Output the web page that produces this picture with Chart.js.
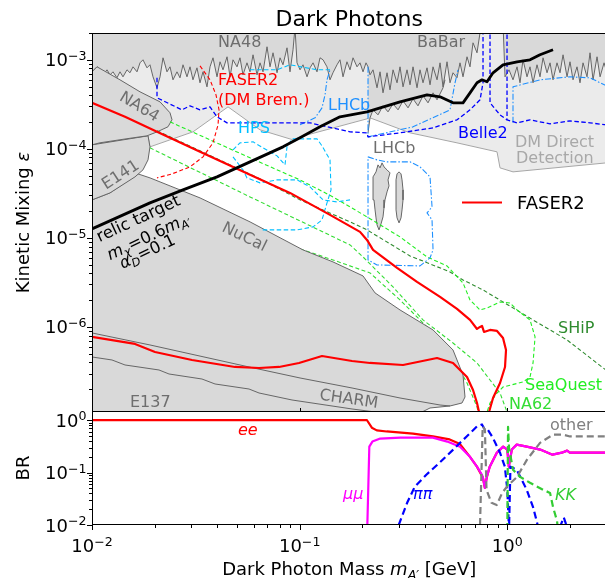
<!DOCTYPE html>
<html><head><meta charset="utf-8">
<script src="https://cdn.jsdelivr.net/npm/chart.js@4.4.1/dist/chart.umd.min.js"></script>
<style>
html,body{margin:0;padding:0;background:#fff;overflow:hidden;width:605px;height:578px;}
#wrap{position:relative;width:605px;height:578px;overflow:hidden;background:#fff;}
canvas{position:absolute;left:0;}
#cTop{top:0;}
#cBot{top:411px;}
</style></head><body>
<div id="wrap"><canvas id="cTop" width="610" height="412" style="width:610px;height:412px"></canvas><canvas id="cBot" width="610" height="167" style="width:610px;height:167px"></canvas></div>
<script>
// ---------- tick labels ----------
const massTicks = [0.01, 0.1, 1];
const massTickExp = ['\u22122', '\u22121', '0'];
const epsTicks = [1e-3, 1e-4, 1e-5, 1e-6];
const epsTickExp = ['\u22123', '\u22124', '\u22125', '\u22126'];
const brTicks = [1, 0.1, 0.01];
const brTickExp = ['0', '\u22121', '\u22122'];

// ---------- top panel: [mass GeV, epsilon] ----------
const dmDirectEdge = [[0.0100,1.109e-4],[0.01861,1.400e-4],[0.01902,1.053e-4],[0.02375,1.262e-4],[0.03064,1.552e-4],[0.04519,2.963e-4],[0.06444,1.635e-4],[0.0929,1.262e-4],[0.1004,1.364e-4],[0.2110,2.173e-4],[0.2182,2.230e-4],[0.3400,1.513e-4],[0.5724,1.168e-4],[0.8921,9.254e-5],[0.9223,6.117e-5],[1.065,5.515e-5],[3.0,6.961e-5]];
const na48BabarEdge = [[0.0100,7.33e-4],[0.01057,8.34e-4],[0.01093,7.92e-4],[0.01130,6.78e-4],[0.01181,7.72e-4],[0.01221,6.78e-4],[0.01262,7.33e-4],[0.01319,6.28e-4],[0.01364,7.33e-4],[0.01410,6.44e-4],[0.01474,7.72e-4],[0.01524,7.15e-4],[0.01576,8.34e-4],[0.01647,7.33e-4],[0.01703,9.25e-4],[0.01760,1.0e-3],[0.01840,8.13e-4],[0.01902,8.79e-4],[0.01967,6.44e-4],[0.02056,4.85e-4],[0.02126,6.44e-4],[0.02198,1.053e-3],[0.02297,7.33e-4],[0.02375,8.34e-4],[0.02455,5.96e-4],[0.02566,7.33e-4],[0.02653,6.28e-4],[0.02743,8.79e-4],[0.02867,6.44e-4],[0.02965,8.34e-4],[0.03064,5.96e-4],[0.03203,8.13e-4],[0.03312,5.52e-4],[0.03424,7.33e-4],[0.03579,4.97e-4],[0.03701,8.34e-4],[0.03826,1.053e-3],[0.04000,6.44e-4],[0.04135,9.50e-4],[0.04275,7.72e-4],[0.04470,1.081e-3],[0.04620,6.44e-4],[0.04775,1.0e-3],[0.04992,8.34e-4],[0.05160,1.053e-3],[0.05334,6.78e-4],[0.05577,9.25e-4],[0.05767,7.33e-4],[0.05962,1.138e-3],[0.06232,6.78e-4],[0.06444,9.25e-4],[0.06662,7.33e-4],[0.06964,1.40e-3],[0.07198,8.34e-4],[0.07443,1.199e-3],[0.07781,7.15e-4],[0.08043,1.053e-3],[0.08314,8.79e-4],[0.08691,1.364e-3],[0.08984,7.33e-4],[0.09290,1.296e-3],[0.09498,2.3e-3],[0.09710,9.25e-4],
[0.1004,7.72e-4],[0.1038,8.79e-4],[0.1085,6.44e-4],[0.1122,8.13e-4],[0.1160,9.25e-4],[0.1212,7.33e-4],[0.1253,1.053e-3],[0.1296,1.0e-3],[0.1354,8.34e-4],[0.1400,5.96e-4],[0.1447,7.15e-4],[0.1513,8.79e-4],[0.1564,1.0e-3],[0.1617,6.44e-4],[0.1690,9.50e-4],[0.1748,7.72e-4],[0.1807,1.053e-3],[0.1889,8.34e-4],[0.1953,9.25e-4],[0.2019,7.33e-4],[0.2087,9.25e-4],[0.2134,8.34e-4],[0.2182,6.78e-4],[0.2256,7.72e-4],[0.2358,4.85e-4],[0.2438,7.33e-4],[0.2520,4.26e-4],[0.2635,7.15e-4],[0.2723,4.60e-4],[0.2816,7.72e-4],[0.2944,5.52e-4],[0.3043,8.34e-4],[0.3146,4.97e-4],[0.3289,7.72e-4],[0.3400,5.24e-4],[0.3515,8.34e-4],[0.3674,4.85e-4],[0.3798,7.72e-4],[0.3926,5.52e-4],[0.4105,8.13e-4],[0.4244,5.24e-4],[0.4388,8.34e-4],[0.4587,5.96e-4],[0.4743,9.25e-4],[0.4902,4.97e-4],[0.5124,9.50e-4],[0.5297,5.52e-4],[0.5476,7.15e-4],[0.5724,6.28e-4],[0.5918,9.25e-4],[0.6118,6.44e-4],[0.6396,1.081e-3],[0.6612,8.34e-4],[0.6836,1.552e-3],[0.7146,1.199e-3],[0.7388,2.01e-3],[0.747,2.54e-3],[0.9535,2.54e-3],[0.9748,6.44e-4],[1.019,7.72e-4],[1.065,5.96e-4],[1.114,8.34e-4],[1.151,5.52e-4],[1.190,1.0e-3],[1.244,6.44e-4],[1.286,8.34e-4],[1.330,5.52e-4],[1.390,8.79e-4],[1.437,6.44e-4],[1.486,1.053e-3],[1.553,7.15e-4],[1.606,9.25e-4],[1.660,5.96e-4],[1.735,9.25e-4],[1.794,7.15e-4],[1.855,1.138e-3],[1.939,6.44e-4],[2.004,9.50e-4],[2.072,5.96e-4],[2.166,8.34e-4],[2.239,5.52e-4],[2.315,9.25e-4],[2.420,6.44e-4],[2.502,1.199e-3],[2.587,5.96e-4],[2.704,1.081e-3],[2.796,6.44e-4],[2.923,9.25e-4],[3.0,7.5e-4]];
const lhcbUpperEdge = [[0.2134,1.513e-4],[0.2182,2.230e-4],[0.2256,2.742e-4],[0.2384,2.410e-4],[0.2520,3.041e-4],[0.2664,2.603e-4],[0.2816,3.202e-4],[0.2977,2.742e-4],[0.3146,3.461e-4],[0.3326,2.888e-4],[0.3515,3.645e-4],[0.3714,3.041e-4],[0.3926,3.940e-4],[0.4151,3.287e-4],[0.4388,4.257e-4],[0.4587,3.553e-4],[0.4902,4.845e-4],[0.5012,5.962e-4]];
const na64Shape = [[0.0100,7.33e-4],[0.01057,8.34e-4],[0.01364,5.96e-4],[0.01703,4.37e-4],[0.02126,3.37e-4],[0.02375,2.54e-4],[0.02428,2.12e-4],[0.02323,1.77e-4],[0.02056,1.55e-4],[0.01840,1.40e-4],[0.01474,1.30e-4],[0.01093,1.17e-4],[0.0100,1.11e-4],[0.0100,7.33e-4]];
const e141Shape = [[0.0100,1.109e-4],[0.01861,1.400e-4],[0.01902,1.053e-4],[0.01861,7.523e-5],[0.01760,5.808e-5],[0.01611,4.845e-5],[0.01221,3.202e-5],[0.0100,2.673e-5],[0.0100,1.109e-4]];
const nucalShape = [[0.0100,2.673e-5],[0.01221,3.202e-5],[0.01665,5.236e-5],[0.01902,4.721e-5],[0.03312,2.814e-5],[0.05767,1.513e-5],[0.1038,7.331e-6],[0.1447,5.374e-6],[0.2019,3.741e-6],[0.2307,2.410e-6],[0.3043,1.552e-6],[0.4388,9.254e-7],[0.5476,5.515e-7],[0.6118,2.888e-7],[0.6255,1.635e-7],[0.6050,1.400e-7],[0.5297,1.296e-7],[0.4244,1.230e-7],[0.3798,1.08e-7],[0.3798,9e-8],[0.0100,9e-8],[0.0100,2.673e-5]];
const charmEdge = [[0.0100,8.563e-7],[0.01902,6.277e-7],[0.05703,3.553e-7],[0.1004,2.673e-7],[0.1787,2.063e-7],[0.3043,1.593e-7],[0.4743,1.329e-7],[0.5297,1.296e-7]];
const e137Edge = [[0.0100,4.601e-7],[0.01248,4.257e-7],[0.01442,3.741e-7],[0.02102,3.287e-7],[0.02349,2.963e-7],[0.03385,2.603e-7],[0.03912,2.289e-7],[0.05703,2.010e-7],[0.06372,1.813e-7],[0.09188,1.513e-7],[0.1787,1.199e-7],[0.2307,1.109e-7],[0.2438,1.026e-7]];
const lhcbBlobA = [[0.2256,4.845e-5],[0.2332,5.515e-5],[0.2384,6.610e-5],[0.2438,6.117e-5],[0.2493,6.961e-5],[0.2548,6.277e-5],[0.2635,5.808e-5],[0.2723,5.374e-5],[0.2664,4.483e-5],[0.2693,3.839e-5],[0.2635,3.287e-5],[0.2576,2.673e-5],[0.2548,2.173e-5],[0.2520,1.722e-5],[0.2465,1.437e-5],[0.2411,1.230e-5],[0.2358,1.400e-5],[0.2332,1.678e-5],[0.2307,2.063e-5],[0.2280,2.673e-5],[0.2256,3.461e-5],[0.2256,4.845e-5]];
const lhcbBlobB = [[0.3010,5.515e-5],[0.3077,5.236e-5],[0.3112,4.483e-5],[0.3146,3.461e-5],[0.3146,2.673e-5],[0.3112,2.063e-5],[0.3077,1.678e-5],[0.3010,1.474e-5],[0.2944,1.678e-5],[0.2911,2.063e-5],[0.2911,2.673e-5],[0.2911,3.461e-5],[0.2911,4.483e-5],[0.2944,5.236e-5],[0.3010,5.515e-5]];
const belle2A = [[0.02056,6.277e-4],[0.02056,3.741e-4],[0.02713,2.742e-4],[0.02965,3.041e-4],[0.03312,2.742e-4],[0.03701,2.963e-4],[0.04000,2.289e-4],[0.04470,1.959e-4],[0.08314,1.959e-4],[0.1122,1.959e-4],[0.1748,1.552e-4],[0.2110,1.513e-4],[0.2134,1.364e-4],[0.3043,1.513e-4],[0.4388,1.722e-4],[0.5724,2.117e-4],[0.6612,2.742e-4],[0.7388,3.553e-4],[0.7638,5.515e-4],[0.7638,2.3e-3]];
const belle2B = [[0.8254,2.3e-3],[0.8254,3.287e-4],[0.9223,2.410e-4],[0.9967,2.117e-4]];
const belle2C = [[0.9967,2.3e-3],[0.9967,2.117e-4],[1.114,1.959e-4],[1.286,2.117e-4],[1.606,1.909e-4],[2.004,2.063e-4],[2.502,1.959e-4],[3.0,1.86e-4]];
const relicTarget = [[0.0100,1.262e-5],[0.01902,2.473e-5],[0.02743,3.461e-5],[0.04000,4.845e-5],[0.05767,7.145e-5],[0.08314,1.053e-4],[0.1004,1.329e-4],[0.1253,1.767e-4],[0.1564,2.289e-4],[0.2110,2.603e-4],[0.3043,3.373e-4],[0.4105,4.043e-4],[0.4743,3.839e-4],[0.5476,3.287e-4],[0.6118,3.287e-4],[0.6612,4.257e-4],[0.7146,5.515e-4],[0.7553,5.962e-4],[0.7984,5.659e-4],[0.8534,7.145e-4],[0.9535,8.787e-4],[1.114,9.495e-4],[1.286,1.0e-3],[1.437,1.138e-3],[1.660,1.296e-3]];
const faser2Upper = [[0.0100,3.287e-4],[0.01442,2.289e-4],[0.02056,1.552e-4],[0.03312,9.254e-5],[0.05767,5.103e-5],[0.08984,3.202e-5],[0.1400,1.813e-5],[0.1953,1.168e-5],[0.2110,9.495e-6],[0.2256,7.331e-6],[0.2944,4.601e-6],[0.3674,3.202e-6],[0.4743,2.173e-6],[0.5724,1.593e-6],[0.6612,1.199e-6],[0.7146,9.495e-7],[0.7388,1.0e-6],[0.7553,1.026e-6],[0.7722,8.787e-7],[0.8254,9.254e-7],[0.8921,9.016e-7],[0.9535,7.523e-7],[0.9856,5.515e-7],[0.9748,3.553e-7],[0.9223,2.349e-7],[0.8534,1.593e-7],[0.8164,1.109e-7],[0.79,8e-8]];
const faser2Lower = [[0.0100,7.723e-7],[0.01611,6.442e-7],[0.02011,5.236e-7],[0.03031,4.257e-7],[0.04883,3.553e-7],[0.06372,3.461e-7],[0.07955,3.553e-7],[0.09929,3.940e-7],[0.1281,4.721e-7],[0.1787,4.149e-7],[0.2182,3.940e-7],[0.3146,3.741e-7],[0.4587,4.483e-7],[0.5476,3.940e-7],[0.6396,2.742e-7],[0.6836,1.959e-7],[0.7146,1.400e-7],[0.7306,1.109e-7],[0.74,8e-8]];
const faser2Brem = [[0.03312,8.563e-4],[0.03701,5.962e-4],[0.03955,4.043e-4],[0.04089,2.742e-4],[0.04045,1.861e-4],[0.03826,1.168e-4],[0.03424,8.131e-5],[0.02965,6.277e-5],[0.02428,5.236e-5],[0.02056,4.721e-5]];
const seaquestLine = [[0.02375,2.010e-4],[0.05767,7.923e-5],[0.1004,4.483e-5],[0.1447,2.888e-5],[0.2110,1.722e-5],[0.3043,1.026e-5],[0.4105,6.117e-6],[0.5124,4.845e-6],[0.6118,3.121e-6],[0.6612,2.010e-6],[0.7388,1.552e-6],[0.7984,1.635e-6],[0.9223,1.909e-6],[1.030,1.861e-6],[1.114,1.552e-6],[1.286,1.199e-6],[1.360,7.723e-7],[1.330,3.940e-7],[1.286,2.742e-7],[1.190,2.410e-7],[0.9535,2.117e-7],[0.8921,1.813e-7],[0.8254,1.400e-7],[0.7984,1.109e-7],[0.7896,1.0e-7]];
const na62Upper = [[0.01902,1.026e-4],[0.05767,2.888e-5],[0.1004,1.552e-5],[0.1748,8.344e-6],[0.2019,6.117e-6],[0.2816,2.814e-6],[0.3926,1.199e-6],[0.5476,6.610e-7],[0.7146,3.940e-7],[0.8254,2.538e-7],[0.9223,1.813e-7],[0.9967,1.109e-7],[1.008,1.0e-7]];
const na62Lower = [[0.1004,7.52e-6],[0.1447,5.659e-6],[0.2182,4.043e-6],[0.3043,2.010e-6],[0.4244,9.254e-7],[0.5297,5.236e-7],[0.6396,2.349e-7],[0.7146,1.262e-7],[0.7306,1.0e-7]];
const shipLine = [[0.02056,1.593e-4],[0.03312,9.495e-5],[0.06444,4.601e-5],[0.1004,2.673e-5],[0.1748,1.513e-5],[0.2110,1.230e-5],[0.3400,6.277e-6],[0.5297,4.149e-6],[0.6118,3.373e-6],[0.7638,2.603e-6],[1.330,1.199e-6],[1.939,7.145e-7],[3.0,3.25e-7]];
const hpsLoop = [[0.04775,9.745e-5],[0.05160,1.168e-4],[0.05962,1.199e-4],[0.06662,1.026e-4],[0.07781,8.344e-5],[0.08501,6.610e-5],[0.08691,1.053e-4],[0.09188,1.296e-4],[0.1212,1.296e-4],[0.1281,1.081e-4],[0.1400,7.523e-5],[0.1416,3.461e-5],[0.1354,2.473e-5],[0.1281,1.593e-5],[0.1160,1.329e-5],[0.09710,1.230e-5],[0.06588,1.230e-5]];
const hpsLower = [[0.04775,8.131e-5],[0.05334,5.808e-5],[0.05577,4.721e-5],[0.06444,4.149e-5],[0.07781,4.483e-5],[0.09710,4.483e-5],[0.1122,3.741e-5],[0.1296,2.673e-5],[0.1513,2.538e-5],[0.1748,2.673e-5]];
const hpsTop = [[0.05767,7.723e-4],[0.07781,7.723e-4],[0.08984,8.787e-4],[0.1212,7.723e-4],[0.1400,7.723e-4]];
const lhcbLowerLoop = [[0.2134,8.131e-5],[0.2358,7.523e-5],[0.2635,7.145e-5],[0.3400,7.145e-5],[0.3798,6.277e-5],[0.4244,4.845e-5],[0.4340,2.230e-5],[0.4105,1.909e-5],[0.4340,1.593e-5],[0.4388,7.331e-6],[0.4244,5.962e-6],[0.3798,4.845e-6],[0.2358,4.971e-6],[0.2134,5.659e-6],[0.2134,8.131e-5]];
const lhcbUpperA = [[0.1004,1.861e-4],[0.1186,2.230e-4],[0.1281,2.888e-4],[0.1325,4.043e-4],[0.1354,5.962e-4],[0.1400,7.723e-4]];
const lhcbUpperB = [[0.2134,8.344e-4],[0.2134,1.364e-4],[0.3515,1.767e-4],[0.5297,2.742e-4],[0.5599,5.515e-4],[0.5787,7.723e-4]];
const lhcbUpperC = [[1.065,1.959e-4],[1.065,4.971e-4],[1.437,5.962e-4],[2.004,6.442e-4],[2.502,6.277e-4],[3.0,5.1e-4]];

// ---------- bottom panel: [mass GeV, branching ratio] ----------
const brEE = [[0.01,1.0],[0.211,1.0],[0.2226,0.72],[0.2352,0.64],[0.2626,0.61],[0.3513,0.556],[0.4383,0.49],[0.5274,0.43],[0.592,0.35],[0.661,0.2],[0.714,0.13],[0.763,0.08],[0.78,0.051],[0.797,0.083],[0.823,0.13],[0.89,0.24],[0.955,0.313],[1.0,0.275],[1.017,0.13],[1.051,0.275],[1.11,0.342],[1.24,0.313],[1.44,0.275],[1.65,0.22],[1.83,0.24],[1.94,0.263],[2.0,0.24],[3.0,0.24]];
const brMuMu = [[0.2118,0.01],[0.2165,0.313],[0.224,0.391],[0.2443,0.446],[0.3057,0.466],[0.438,0.466],[0.5138,0.391],[0.592,0.313],[0.661,0.2],[0.714,0.13],[0.755,0.091],[0.763,0.08],[0.78,0.051],[0.797,0.083],[0.823,0.13],[0.89,0.24],[0.955,0.313],[1.0,0.275],[1.017,0.13],[1.051,0.275],[1.11,0.342],[1.24,0.313],[1.44,0.275],[1.65,0.22],[1.83,0.24],[1.94,0.263],[2.0,0.24],[3.0,0.24]];
const brPiPi = [[0.30,0.01],[0.3293,0.0265],[0.3585,0.054],[0.4073,0.091],[0.4723,0.155],[0.5486,0.275],[0.637,0.49],[0.714,0.76],[0.755,0.83],[0.78,0.66],[0.805,0.66],[0.851,0.466],[0.922,0.24],[0.973,0.13],[1.0,0.047],[1.019,0.008],[1.035,0.13],[1.11,0.113],[1.24,0.047],[1.33,0.022],[1.40,0.01],[1.42,0.007]];
const brPiPiTail = [[1.79,0.009],[1.87,0.014],[1.94,0.009]];
const brOther = [[0.7388,0.01],[0.761,0.76],[0.78,0.66],[0.794,0.047],[0.839,0.0265],[0.889,0.024],[0.944,0.041],[1.0,0.055],[1.114,0.083],[1.244,0.177],[1.437,0.37],[1.66,0.53],[1.855,0.53],[2.004,0.49],[3.0,0.49]];
const brKK = [[1.0,0.008],[1.008,0.75],[1.019,0.3],[1.065,0.113],[1.151,0.083],[1.286,0.064],[1.486,0.047],[1.606,0.041],[1.66,0.022],[1.735,0.012],[1.755,0.008]];

// ---------- styling ----------
const FAM = '"DejaVu Sans"';
const GRAY_FILL = '#d9d9d9', GRAY_LINE = '#666666';
const topLayers = [
  {d: dmDirectEdge, fill: 'end', bg: '#ebebeb', c: '#a6a6a6', w: 1},
  {d: lhcbUpperEdge, fill: 'end', bg: GRAY_FILL, c: GRAY_LINE, w: 1},
  {d: na48BabarEdge, fill: 'end', bg: GRAY_FILL, c: GRAY_LINE, w: 1},
  {d: na62Lower, c: '#33dd33', w: 1.1, dash: [4, 2.5]},
  {d: nucalShape, fill: 'shape', bg: GRAY_FILL, c: GRAY_LINE, w: 1},
  {d: e141Shape, fill: 'shape', bg: GRAY_FILL, c: GRAY_LINE, w: 1},
  {d: na64Shape, fill: 'shape', bg: GRAY_FILL, c: GRAY_LINE, w: 1},
  {d: charmEdge, c: GRAY_LINE, w: 1},
  {d: e137Edge, c: GRAY_LINE, w: 1},
  {d: lhcbBlobA, fill: 'shape', bg: GRAY_FILL, c: GRAY_LINE, w: 1},
  {d: lhcbBlobB, fill: 'shape', bg: GRAY_FILL, c: GRAY_LINE, w: 1},
  {d: shipLine, c: '#2e8b2e', w: 1.1, dash: [4, 2.5]},
  {d: na62Upper, c: '#33dd33', w: 1.1, dash: [4, 2.5]},
  {d: seaquestLine, c: '#22ee22', w: 1.1, dash: [4, 2.5]},
  {d: hpsLoop, c: '#00bfff', w: 1.1, dash: [4.5, 2.5]},
  {d: hpsLower, c: '#00bfff', w: 1.1, dash: [4.5, 2.5]},
  {d: hpsTop, c: '#00bfff', w: 1.1, dash: [4.5, 2.5]},
  {d: lhcbLowerLoop, c: '#1e90ff', w: 1.1, dash: [6, 2, 1.5, 2]},
  {d: lhcbUpperA, c: '#1e90ff', w: 1.1, dash: [6, 2, 1.5, 2]},
  {d: lhcbUpperB, c: '#1e90ff', w: 1.1, dash: [6, 2, 1.5, 2]},
  {d: lhcbUpperC, c: '#1e90ff', w: 1.1, dash: [6, 2, 1.5, 2]},
  {d: belle2A, c: '#0000ff', w: 1.3, dash: [4.5, 2.5]},
  {d: belle2B, c: '#0000ff', w: 1.3, dash: [4.5, 2.5]},
  {d: belle2C, c: '#0000ff', w: 1.3, dash: [4.5, 2.5]},
  {d: faser2Brem, c: '#ff0000', w: 1.1, dash: [4, 2.5]},
  {d: faser2Upper, c: '#ff0000', w: 2.2},
  {d: faser2Lower, c: '#ff0000', w: 2.2},
  {d: relicTarget, c: '#000000', w: 2.8}
];
const botLayers = [
  {d: brEE, c: '#ff0000', w: 2.2},
  {d: brMuMu, c: '#ff00ff', w: 2.2},
  {d: brPiPi, c: '#0000ff', w: 2.2, dash: [7, 4]},
  {d: brPiPiTail, c: '#0000ff', w: 2.2, dash: [7, 4]},
  {d: brOther, c: '#808080', w: 2.2, dash: [7, 4]},
  {d: brKK, c: '#33cc33', w: 2.2, dash: [7, 4]}
];

function toDatasets(layers) {
  return layers.map((L, i) => ({
    data: L.d.map(p => ({x: p[0], y: p[1]})),
    showLine: true, pointRadius: 0, pointHoverRadius: 0, tension: 0,
    borderColor: L.c, borderWidth: L.w, borderDash: L.dash || [],
    backgroundColor: L.bg || 'transparent', fill: L.fill || false,
    order: layers.length - i, clip: 0, borderJoinStyle: 'round', borderCapStyle: 'butt'
  }));
}

// ---------- text labels (anchors in data units) ----------
const topNotes = [
  {r: [{t: 'NA48'}], m: 0.04045, v: 1.40e-3, c: '#6e6e6e'},
  {r: [{t: 'BaBar'}], m: 0.3674, v: 1.40e-3, c: '#6e6e6e'},
  {r: [{t: 'FASER2'}], m: 0.04045, v: 5.24e-4, c: '#ff0000'},
  {r: [{t: '(DM Brem.)'}], m: 0.04045, v: 3.12e-4, c: '#ff0000'},
  {r: [{t: 'LHCb'}], m: 0.1369, v: 2.742e-4, c: '#1e90ff'},
  {r: [{t: 'HPS'}], m: 0.05047, v: 1.513e-4, c: '#00bfff'},
  {r: [{t: 'LHCb'}], m: 0.2256, v: 9.018e-5, c: '#6e6e6e'},
  {r: [{t: 'Belle2'}], m: 0.5787, v: 1.329e-4, c: '#0000ff'},
  {r: [{t: 'DM Direct'}], m: 1.089, v: 1.053e-4, c: '#a8a8a8'},
  {r: [{t: 'Detection'}], m: 1.101, v: 6.961e-5, c: '#a8a8a8'},
  {r: [{t: 'NA64'}], m: 0.01703, v: 3.04e-4, c: '#6e6e6e', rot: 31, center: true},
  {r: [{t: 'E141'}], m: 0.01364, v: 5.236e-5, c: '#6e6e6e', rot: -33, center: true},
  {r: [{t: 'NuCal'}], m: 0.05454, v: 1.053e-5, c: '#6e6e6e', rot: 26, center: true},
  {r: [{t: 'relic target'}], m: 0.01665, v: 1.678e-5, c: '#000', rot: -25, center: true, s: 16.5},
  {r: [{t: 'm', it: 1}, {t: '\u03c7', it: 1, sub: 1}, {t: '=0.6'}, {t: 'm', it: 1}, {t: 'A\u2032', it: 1, sub: 1}], m: 0.01861, v: 1.053e-5, c: '#000', rot: -25, center: true, s: 16.5},
  {r: [{t: '\u03b1', it: 1}, {t: 'D', it: 1, sub: 1}, {t: '=0.1'}], m: 0.0184, v: 7.15e-6, c: '#000', rot: -25, center: true, s: 16.5},
  {r: [{t: 'E137'}], m: 0.01524, v: 1.262e-7, c: '#6e6e6e'},
  {r: [{t: 'CHARM'}], m: 0.1729, v: 1.593e-7, c: '#6e6e6e', rot: 8, center: true},
  {r: [{t: 'SHiP'}], m: 1.755, v: 8.563e-7, c: '#2e8b2e'},
  {r: [{t: 'SeaQuest'}], m: 1.217, v: 1.959e-7, c: '#22ee22'},
  {r: [{t: 'NA62'}], m: 1.019, v: 1.199e-7, c: '#33dd33'}
];
const botNotes = [
  {r: [{t: 'ee', it: 1}], m: 0.05047, v: 0.532, c: '#ff0000'},
  {r: [{t: '\u03bc\u03bc', it: 1}], m: 0.1617, v: 0.0316, c: '#ff00ff'},
  {r: [{t: '\u03c0\u03c0', it: 1}], m: 0.3515, v: 0.0316, c: '#0000ff'},
  {r: [{t: 'KK', it: 1}], m: 1.697, v: 0.0303, c: '#33cc33'},
  {r: [{t: 'other'}], m: 1.606, v: 0.664, c: '#808080'}
];

function rich(ctx, runs, x, y, o) {
  const size = o.size || 16;
  const parts = runs.map(r => {
    const s = (r.sub || r.sup) ? size * 0.7 : size;
    const font = (r.it ? 'italic ' : '') + s + 'px ' + FAM;
    ctx.font = font;
    return {t: r.t, font, w: ctx.measureText(r.t).width, dy: r.sub ? size * 0.22 : (r.sup ? -size * 0.36 : 0)};
  });
  const total = parts.reduce((a, p) => a + p.w, 0);
  ctx.save();
  ctx.translate(x, y);
  if (o.rot) ctx.rotate(o.rot * Math.PI / 180);
  let cx = o.align === 'center' ? -total / 2 : (o.align === 'right' ? -total : 0);
  const cy = o.vcenter ? size * 0.36 : 0;
  ctx.fillStyle = o.color || '#000';
  ctx.textAlign = 'left'; ctx.textBaseline = 'alphabetic';
  for (const p of parts) { ctx.font = p.font; ctx.fillText(p.t, cx, cy + p.dy); cx += p.w; }
  ctx.restore();
}

function drawLogTicks(ctx, scale, axis, area, dir, majorOnly) {
  const e0 = Math.floor(Math.log10(scale.min)), e1 = Math.ceil(Math.log10(scale.max));
  ctx.save(); ctx.strokeStyle = '#000'; ctx.lineWidth = 1;
  for (let e = e0; e <= e1; e++) for (let k = 1; k <= 9; k++) {
    if (majorOnly && k > 1) continue;
    const v = k * Math.pow(10, e);
    if (v < scale.min * 0.9999 || v > scale.max * 1.0001) continue;
    const len = k === 1 ? 5 : 3;
    const p = Math.round(scale.getPixelForValue(v)) + 0.5;
    ctx.beginPath();
    if (axis === 'y') { ctx.moveTo(area.left - len, p); ctx.lineTo(area.left, p); }
    else if (dir === 'up') { ctx.moveTo(p, area.bottom - 4); ctx.lineTo(p, area.bottom); }
    else { ctx.moveTo(p, area.bottom); ctx.lineTo(p, area.bottom + len); }
    ctx.stroke();
  }
  ctx.restore();
}
function powLabel(exp) { return [{t: '10'}, {t: exp, sup: 1}]; }
function frame(ctx, a) {
  ctx.save(); ctx.strokeStyle = '#000'; ctx.lineWidth = 1;
  ctx.strokeRect(a.left + 0.5, a.top + 0.5, a.right - a.left - 1, a.bottom - a.top - 1);
  ctx.restore();
}
function drawNotes(ctx, notes, xs, ys) {
  for (const n of notes) {
    const x = xs.getPixelForValue(n.m), y = ys.getPixelForValue(n.v);
    rich(ctx, n.r, x, y, {size: n.s || 16, color: n.c, rot: n.rot || 0, align: n.center ? 'center' : 'left', vcenter: !!n.center});
  }
}

const topDecor = {
  id: 'topDecor',
  afterDraw(chart) {
    const ctx = chart.ctx, a = chart.chartArea, xs = chart.scales.x, ys = chart.scales.y;
    drawNotes(ctx, topNotes, xs, ys);
    // legend
    ctx.save(); ctx.strokeStyle = '#ff0000'; ctx.lineWidth = 2.2;
    ctx.beginPath(); ctx.moveTo(a.left + 370, 202.5); ctx.lineTo(a.left + 410, 202.5); ctx.stroke(); ctx.restore();
    rich(ctx, [{t: 'FASER2'}], a.left + 425, 208.5, {size: 18, color: '#000'});
    frame(ctx, a);
    drawLogTicks(ctx, ys, 'y', a);
    drawLogTicks(ctx, xs, 'x', a, 'up', true);
    epsTicks.forEach((v, i) => rich(ctx, powLabel(epsTickExp[i]), a.left - 5.5, ys.getPixelForValue(v) + 6.5, {size: 18, align: 'right'}));
    rich(ctx, [{t: 'Kinetic Mixing '}, {t: '\u03b5', it: 1}], 28.5, (a.top + a.bottom) / 2, {size: 18, rot: -90, align: 'center'});
    rich(ctx, [{t: 'Dark Photons'}], (a.left + a.right) / 2, 26, {size: 22, align: 'center'});
  }
};
const botDecor = {
  id: 'botDecor',
  afterDraw(chart) {
    const ctx = chart.ctx, a = chart.chartArea, xs = chart.scales.x, ys = chart.scales.y;
    drawNotes(ctx, botNotes, xs, ys);
    frame(ctx, a);
    drawLogTicks(ctx, ys, 'y', a);
    drawLogTicks(ctx, xs, 'x', a);
    brTicks.forEach((v, i) => rich(ctx, powLabel(brTickExp[i]), a.left - 5.5, ys.getPixelForValue(v) + 6.5, {size: 18, align: 'right'}));
    massTicks.forEach((v, i) => rich(ctx, powLabel(massTickExp[i]), xs.getPixelForValue(v), a.bottom + 27, {size: 18, align: 'center'}));
    rich(ctx, [{t: 'BR'}], 29, (a.top + a.bottom) / 2, {size: 18, rot: -90, align: 'center'});
    rich(ctx, [{t: 'Dark Photon Mass '}, {t: 'm', it: 1}, {t: 'A\u2032', it: 1, sub: 1}, {t: ' [GeV]'}], (a.left + a.right) / 2, a.bottom + 50, {size: 18, align: 'center'});
  }
};

Chart.defaults.font.family = FAM;
const common = {
  responsive: false, animation: false, devicePixelRatio: 1,
  plugins: {legend: {display: false}, tooltip: {enabled: false}},
  events: []
};
new Chart(document.getElementById('cTop'), {
  type: 'scatter',
  data: {datasets: toDatasets(topLayers)},
  options: Object.assign({}, common, {
    layout: {padding: {top: 33, right: 3.6, left: 0, bottom: 0}},
    scales: {
      x: {type: 'logarithmic', min: 0.01, max: 3, display: false},
      y: {type: 'logarithmic', min: 1.109e-7, max: 2e-3, grid: {display: false}, border: {display: false}, ticks: {display: false},
          afterFit: s => { s.width = 92; }}
    }
  }),
  plugins: [topDecor]
});
new Chart(document.getElementById('cBot'), {
  type: 'scatter',
  data: {datasets: toDatasets(botLayers)},
  options: Object.assign({}, common, {
    layout: {padding: {top: 0, right: 3.6, left: 0, bottom: 0}},
    scales: {
      x: {type: 'logarithmic', min: 0.01, max: 3, grid: {display: false}, border: {display: false}, ticks: {display: false},
          afterFit: s => { s.height = 53; }},
      y: {type: 'logarithmic', min: 0.01, max: 1.5, grid: {display: false}, border: {display: false}, ticks: {display: false},
          afterFit: s => { s.width = 92; }}
    }
  }),
  plugins: [botDecor]
});
</script></body></html>
